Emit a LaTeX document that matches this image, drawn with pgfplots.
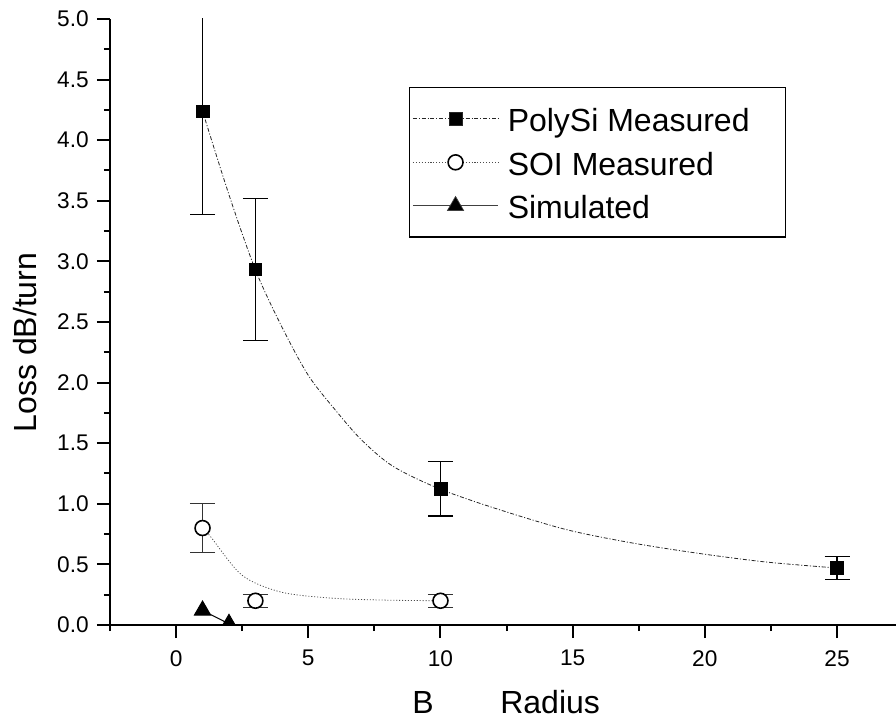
\documentclass[border=0pt]{standalone}
\usepackage{fontspec}
\setmainfont{Liberation Sans}
\usepackage{pgfplots}
\pgfplotsset{compat=1.18}

% PolySi measurements: radius, loss, error
\pgfplotstableread{
x y e
1 4.24 0.85
3 2.935 0.585
10 1.125 0.225
25 0.47 0.095
}\polysi
% SOI measurements
\pgfplotstableread{
x y e
1 0.80 0.20
3 0.20 0.053
10 0.20 0.053
}\soi
% simulated loss
\pgfplotstableread{
x y
1 0.12
2 0.01
}\simdata
% fitted trend through the PolySi points
\pgfplotstableread{
x y
1 4.24
2 3.55
3 2.93
4 2.46
5 2.06
6 1.78
7 1.53
8.2 1.31
10 1.12
12.25 0.95
14.8 0.785
17.3 0.675
19.8 0.59
22.3 0.52
25 0.47
}\polyfit
% fitted trend through the SOI points
\pgfplotstableread{
x y
1 0.80
1.3 0.73
2.5 0.41
4 0.27
6 0.22
8 0.205
10 0.20
}\soifit

\tikzset{
  dashdotline/.style={dash pattern=on 3pt off 1.4pt on 0.8pt off 1.4pt},
  dotline/.style={dash pattern=on 0.8pt off 1.4pt},
  tlab/.style={inner sep=0pt, font=\fontsize{17}{20}\selectfont},
}

\begin{document}
\begin{tikzpicture}
\begin{axis}[
  name=ax,
  at={(0,0)}, anchor=south west,
  scale only axis,
  width=589.5pt, height=454.5pt,
  xmin=-2.5, xmax=27.23,
  ymin=0, ymax=5,
  axis lines=left,
  axis line style={-, line width=1.5pt},
  xtick align=outside, ytick align=outside,
  major tick length=9.75pt,
  minor tick length=4.5pt,
  tick style={line width=1.5pt, black},
  xtick={0,5,...,25},
  minor xtick={-2.5,2.5,7.5,12.5,17.5,22.5},
  ytick={0,0.5,...,5},
  minor ytick={0.25,0.75,...,4.75},
  xticklabels={}, yticklabels={},
  xlabel={B\hspace{50pt}Radius},
  ylabel={Loss dB/turn},
  label style={font=\fontsize{24}{28}\selectfont, inner sep=0pt},
  xlabel style={at={(axis description cs:0.504,0)}, anchor=base, yshift=-66pt},
  ylabel style={at={(axis description cs:-0.0941,0.466)}, anchor=base},
  clip mode=individual,
  clip marker paths=true,
  legend style={
    at={(axis description cs:0.380,0.888)}, anchor=north west,
    draw=black, line width=1pt,
    font=\fontsize{24}{28}\selectfont,
    inner xsep=2.25pt, inner ysep=12.5pt,
    row sep=10.6pt,
    /tikz/column sep=6.75pt,
    nodes={inner sep=0pt, text height=20.5pt, text depth=1.5pt},
    cells={anchor=west},
  },
  legend image code/.code={
    \draw[#1, mark=none] (0pt,0pt) -- (64pt,0pt);
    \draw[#1, solid, line width=0.5pt] plot coordinates {(32pt,0pt)};
  },
]
% trend curves
\addplot[forget plot, black!85, line width=0.6pt, dashdotline, smooth, tension=0.5] table {\polyfit};
\addplot[forget plot, black!70, line width=0.6pt, dotline, smooth, tension=0.5] table {\soifit};

% legend samples
\addlegendimage{black!85, line width=0.6pt, dashdotline, mark=square*, mark size=4.75pt, mark options={solid, fill=black}}
\addlegendentry{\makebox[206pt][l]{PolySi Measured}}
\addlegendimage{black!70, line width=0.6pt, dotline, mark=*, mark size=5.6pt, mark options={solid, fill=white, draw=black, line width=1.2pt}}
\addlegendentry{SOI Measured}
\addlegendimage{black!75, line width=0.8pt, mark=triangle*, mark size=7pt, mark options={solid, fill=black}}
\addlegendentry{Simulated}

% measured data with error bars
\addplot[forget plot, only marks, mark=square*, mark size=4.75pt, mark options={fill=black, draw=black},
  error bars/.cd, y dir=both, y explicit,
  error bar style={line width=0.9pt, black},
  error mark options={rotate=90, mark size=9.4pt, line width=0.9pt, black}]
  table[x=x, y=y, y error=e] {\polysi};
\addplot[forget plot, only marks, mark=*, mark size=5.6pt, mark options={fill=white, draw=black, line width=1.2pt},
  error bars/.cd, y dir=both, y explicit,
  error bar style={line width=0.9pt, black!80},
  error mark options={rotate=90, mark size=9.4pt, line width=0.9pt, black!80}]
  table[x=x, y=y, y error=e] {\soi};
\addplot[forget plot, black, line width=0.8pt, mark=triangle*, mark size=7pt, mark options={fill=black}]
  table {\simdata};

% tick labels
\pgfplotsinvokeforeach{0,5,10,15,20,25}{
  \node[tlab, anchor=north] at (axis cs:#1,0) [yshift=-18.75pt] {#1};
}
\pgfplotsinvokeforeach{0.0,0.5,1.0,1.5,2.0,2.5,3.0,3.5,4.0,4.5,5.0}{
  \node[tlab, anchor=east] at (axis cs:-2.5,#1) [xshift=-15.75pt] {#1};
}
\end{axis}
\pgfresetboundingbox
\path ([shift={(-82.5pt,-72pt)}]ax.south west) rectangle ([shift={(0pt,14.25pt)}]ax.north east);
\end{tikzpicture}
\end{document}
